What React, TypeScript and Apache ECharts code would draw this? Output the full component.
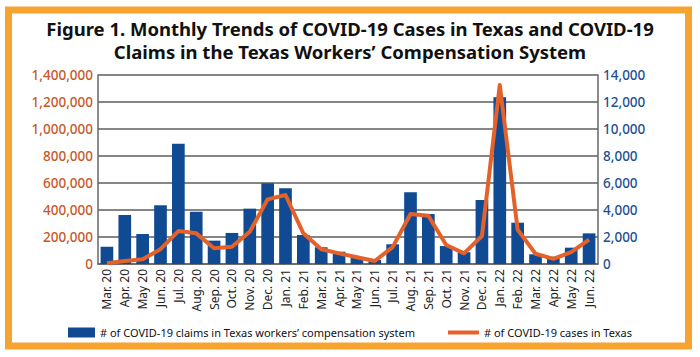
import React, { useEffect, useRef } from "react";
import * as echarts from "echarts";

const months = [
  "Mar. 20", "Apr. 20", "May 20", "Jun. 20", "Jul. 20", "Aug. 20", "Sep. 20", "Oct. 20",
  "Nov. 20", "Dec. 20", "Jan. 21", "Feb. 21", "Mar. 21", "Apr. 21", "May 21", "Jun. 21",
  "Jul. 21", "Aug. 21", "Sep. 21", "Oct. 21", "Nov. 21", "Dec. 21", "Jan. 22", "Feb. 22",
  "Mar. 22", "Apr. 22", "May 22", "Jun. 22",
];

const claims = [
  1280, 3630, 2220, 4350, 8910, 3870, 1730, 2300, 4100, 5980, 5610, 2150, 1240, 910,
  450, 300, 1460, 5310, 3700, 1330, 870, 4740, 12350, 3060, 720, 540, 1210, 2270,
];

const cases = [
  5000, 22000, 35000, 110000, 244000, 227000, 116000, 128000, 239000, 479000, 511000,
  227000, 109000, 79000, 50000, 22000, 125000, 370000, 357000, 141000, 79000, 207000,
  1326000, 255000, 76000, 38000, 88000, 180000,
];

const claimsName = "# of COVID-19 claims in Texas workers\u2019 compensation system";
const casesName = "# of COVID-19 cases in Texas";
const titleLine1 = "Figure 1. Monthly Trends of COVID-19 Cases in Texas and COVID-19";
const titleLine2 = "Claims in the Texas Workers\u2019 Compensation System";

const FONT = "'Noto Sans', sans-serif";

export default function App() {
  const ref = useRef<HTMLDivElement>(null);
  useEffect(() => {
    if (!ref.current) return;
    const chart = echarts.init(ref.current, null, { renderer: "svg" });
    const fmt = (v: number) => v.toLocaleString("en-US");
    const titleStyle = {
      fontFamily: FONT,
      fontSize: 18.5,
      fontWeight: "bold",
      fill: "#111",
      textAlign: "center",
      textVerticalAlign: "middle",
    };
    chart.setOption({
      animation: false,
      backgroundColor: "#ffffff",
      textStyle: { fontFamily: FONT },
      graphic: [
        {
          type: "rect",
          shape: { x: 8.5, y: 10, width: 680, height: 336 },
          style: { fill: "none", stroke: "#f6a330", lineWidth: 7 },
          silent: true,
        },
        { type: "text", x: 350, y: 28, style: { ...titleStyle, text: titleLine1 } },
        { type: "text", x: 350, y: 51, style: { ...titleStyle, text: titleLine2 } },
      ],
      legend: [
        {
          data: [{ name: claimsName, icon: "rect" }],
          left: 63,
          top: 322,
          itemWidth: 27,
          itemHeight: 10,
          textStyle: { fontFamily: FONT, fontSize: 11, color: "#111" },
        },
        {
          data: [{ name: casesName, icon: "rect" }],
          left: 443,
          top: 322,
          itemWidth: 31,
          itemHeight: 4,
          textStyle: { fontFamily: FONT, fontSize: 11, color: "#111" },
        },
      ],
      grid: { left: 98, right: 102, top: 75, height: 189 },
      xAxis: {
        type: "category",
        data: months,
        boundaryGap: true,
        axisLine: { lineStyle: { color: "#666", width: 1.5 } },
        axisTick: { inside: true, length: 5, lineStyle: { color: "#888" } },
        axisLabel: {
          rotate: 90,
          interval: 0,
          margin: 5,
          fontFamily: FONT,
          fontSize: 12,
          color: "#222",
        },
      },
      yAxis: [
        {
          type: "value",
          min: 0,
          max: 1400000,
          interval: 200000,
          position: "left",
          axisLine: { show: true, lineStyle: { color: "#666", width: 1.5 } },
          axisTick: { show: false },
          splitLine: { lineStyle: { color: "#5e5e5e", width: 1.5 } },
          axisLabel: {
            formatter: fmt,
            margin: 5,
            fontFamily: FONT,
            fontSize: 13.5,
            fontWeight: 500,
            color: "#c8582a",
          },
        },
        {
          type: "value",
          min: 0,
          max: 14000,
          interval: 2000,
          position: "right",
          axisLine: { show: true, lineStyle: { color: "#666", width: 1.5 } },
          axisTick: { show: false },
          splitLine: { show: false },
          axisLabel: {
            formatter: fmt,
            margin: 5,
            fontFamily: FONT,
            fontSize: 13.5,
            fontWeight: 500,
            color: "#1d4f91",
          },
        },
      ],
      series: [
        {
          name: claimsName,
          type: "bar",
          yAxisIndex: 1,
          data: claims,
          barCategoryGap: "29%",
          itemStyle: { color: "#0f4a93" },
          z: 2,
        },
        {
          name: casesName,
          type: "line",
          yAxisIndex: 0,
          data: cases,
          symbol: "none",
          lineStyle: { color: "#e4622a", width: 4, join: "round" },
          itemStyle: { color: "#e4622a" },
          z: 3,
        },
      ],
    });
    return () => chart.dispose();
  }, []);
  return (
    <div
      ref={ref}
      style={{ position: "fixed", left: 0, top: 0, width: 700, height: 357 }}
    />
  );
}
